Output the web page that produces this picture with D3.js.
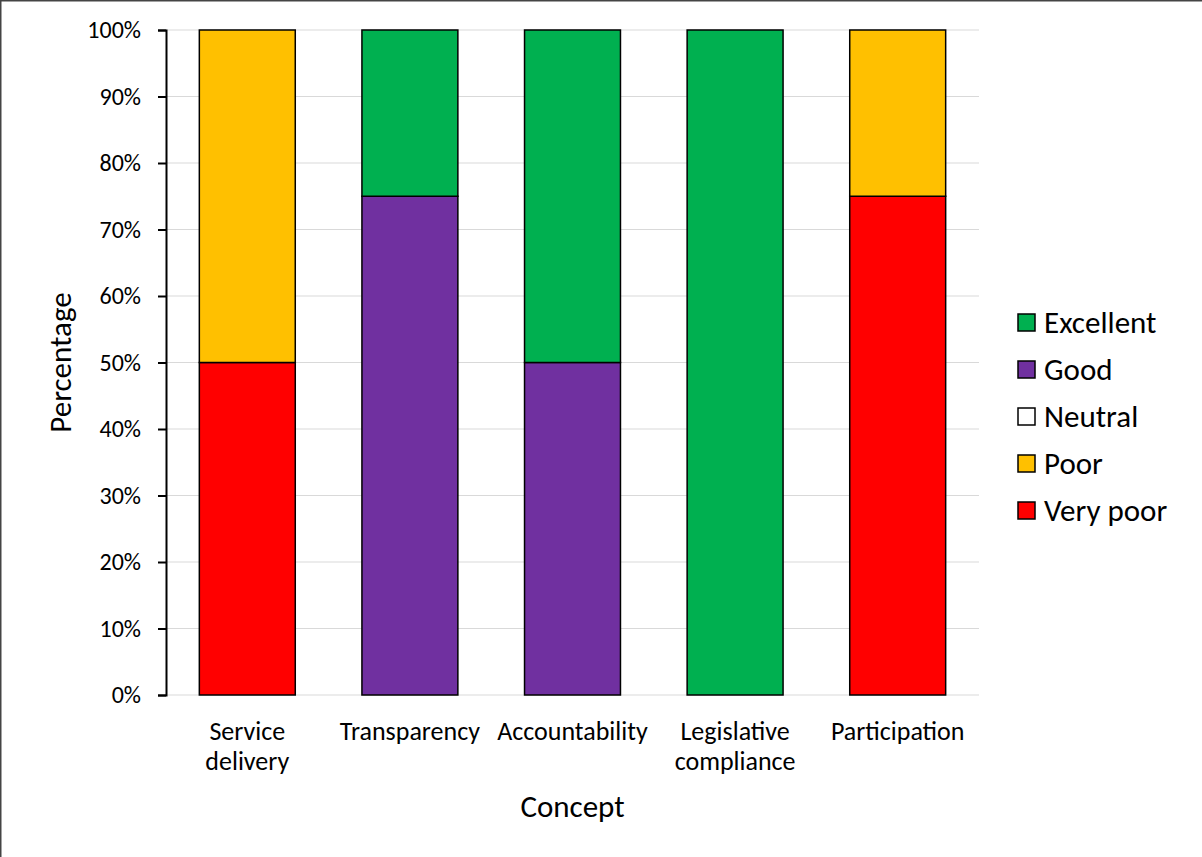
<!DOCTYPE html>
<html>
<head>
<meta charset="utf-8">
<script src="https://cdn.jsdelivr.net/npm/d3@7"></script>
<style>
  html, body { margin: 0; padding: 0; background: #fff; }
  svg { display: block; }
  text { font-family: Carlito, Lato, "Open Sans", sans-serif; fill: #000; }
</style>
</head>
<body>
<svg id="chart" width="1202" height="857"></svg>
<script>
// Concepts rated, bottom-to-top stack order of ratings, and percentage shares
const categories = ["Service delivery", "Transparency", "Accountability", "Legislative compliance", "Participation"];
const categoryLines = [["Service", "delivery"], ["Transparency"], ["Accountability"], ["Legislative", "compliance"], ["Participation"]];
const ratings = ["Very poor", "Poor", "Neutral", "Good", "Excellent"];
const veryPoor  = [50, 0, 0, 0, 75];
const poor      = [50, 0, 0, 0, 25];
const neutral   = [0, 0, 0, 0, 0];
const good      = [0, 75, 50, 0, 0];
const excellent = [0, 25, 50, 100, 0];
const yTicks = [0, 10, 20, 30, 40, 50, 60, 70, 80, 90, 100];
const legendOrder = ["Excellent", "Good", "Neutral", "Poor", "Very poor"];
const colors = { "Excellent": "#00B050", "Good": "#7030A0", "Neutral": "#FFFFFF", "Poor": "#FFC000", "Very poor": "#FF0000" };

const seriesValues = { "Very poor": veryPoor, "Poor": poor, "Neutral": neutral, "Good": good, "Excellent": excellent };
const rows = categories.map((c, i) => {
  const r = { category: c };
  ratings.forEach(k => r[k] = seriesValues[k][i]);
  return r;
});

const svg = d3.select("#chart");
const margin = { left: 166, right: 223, top: 30, bottom: 162 };
const W = 1202, H = 857;
const plotW = W - margin.left - margin.right;
const plotH = H - margin.top - margin.bottom;
const FONT = "Carlito, Lato, 'Open Sans', sans-serif";

// outer frame (left and top edges visible)
svg.append("line").attr("x1", 0.75).attr("x2", 0.75).attr("y1", 0).attr("y2", H)
  .attr("stroke", "#444").attr("stroke-width", 1.5);
svg.append("line").attr("x1", 0).attr("x2", W).attr("y1", 0.75).attr("y2", 0.75)
  .attr("stroke", "#444").attr("stroke-width", 1.5);

const g = svg.append("g").attr("transform", `translate(${margin.left},${margin.top})`);

const x = d3.scaleBand().domain(categories).range([0, plotW]).paddingInner(0.41).paddingOuter(0.205);
const y = d3.scaleLinear().domain([0, 100]).range([plotH, 0]);

// gridlines
g.append("g").selectAll("line").data(yTicks).join("line")
  .attr("x1", 0).attr("x2", plotW)
  .attr("y1", d => y(d)).attr("y2", d => y(d))
  .attr("stroke", "#d9d9d9").attr("stroke-width", 1);

// stacked bars
const stack = d3.stack().keys(ratings)(rows);
g.append("g").selectAll("g").data(stack).join("g")
  .attr("fill", d => colors[d.key])
  .selectAll("rect").data(d => d.filter(p => p[1] - p[0] > 0)).join("rect")
  .attr("x", d => x(d.data.category))
  .attr("width", x.bandwidth())
  .attr("y", d => y(d[1]))
  .attr("height", d => y(d[0]) - y(d[1]))
  .attr("stroke", "#000").attr("stroke-width", 1.5);

// y axis
const yAxis = g.append("g")
  .call(d3.axisLeft(y).tickValues(yTicks).tickFormat(d => d + "%").tickSize(8).tickPadding(17));
yAxis.attr("font-family", null).attr("font-size", null);
yAxis.select(".domain").attr("stroke", "#000").attr("stroke-width", 2);
yAxis.selectAll(".tick line").attr("stroke", "#000").attr("stroke-width", 2);
yAxis.selectAll(".tick text").attr("fill", "#000")
  .style("font-family", FONT).style("font-size", "24px");

// category labels
const xl = g.append("g").attr("transform", `translate(0,${plotH})`);
categories.forEach((c, i) => {
  const cx = x(c) + x.bandwidth() / 2;
  const t = xl.append("text")
    .attr("x", cx)
    .attr("y", 36)
    .attr("dy", "0.35em")
    .attr("text-anchor", "middle")
    .style("font-size", "26px");
  categoryLines[i].forEach((line, j) => {
    t.append("tspan").attr("x", cx).attr("dy", j === 0 ? "0.35em" : 30).text(line);
  });
});

// axis titles
svg.append("text")
  .attr("x", margin.left + plotW / 2).attr("y", 806).attr("dy", "0.35em")
  .attr("text-anchor", "middle").style("font-size", "31px").text("Concept");
svg.append("text")
  .attr("transform", `translate(60,${margin.top + plotH / 2}) rotate(-90)`)
  .attr("text-anchor", "middle").attr("dy", "0.35em").style("font-size", "31px").text("Percentage");

// legend
const lg = svg.append("g").attr("transform", "translate(1018,322)");
legendOrder.forEach((k, i) => {
  const row = lg.append("g").attr("transform", `translate(0,${i * 47})`);
  row.append("rect").attr("x", 0).attr("y", -8).attr("width", 17).attr("height", 17)
    .attr("fill", colors[k]).attr("stroke", "#000").attr("stroke-width", 1.5);
  row.append("text").attr("x", 26).attr("y", 0).attr("dy", "0.35em")
    .style("font-size", "31px").text(k);
});
</script>
</body>
</html>
